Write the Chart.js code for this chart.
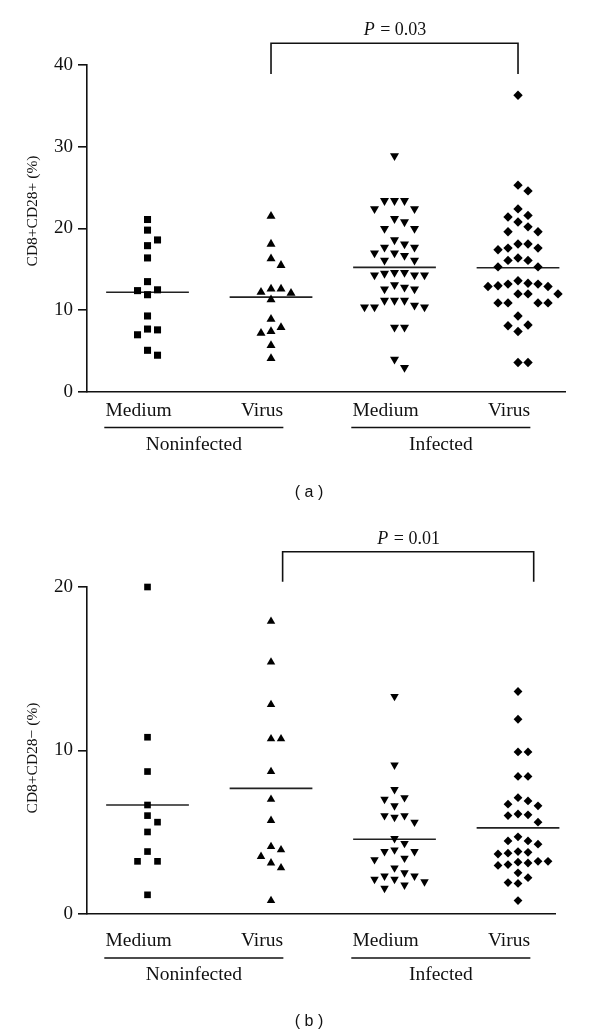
<!DOCTYPE html>
<html><head><meta charset="utf-8">
<script src="https://cdn.jsdelivr.net/npm/chart.js@4.4.1/dist/chart.umd.min.js"></script>
<style>
html,body{margin:0;padding:0;background:#fff;}
#wrap{position:relative;width:600px;height:1036px;overflow:hidden;}
canvas{position:absolute;left:0;}
</style></head><body>
<div id="wrap">
<canvas id="ca" width="600" height="500" style="top:0px"></canvas>
<canvas id="cb" width="600" height="536" style="top:500px"></canvas>
</div>
<script>
// ---------------- data ----------------
const categoryLabels = ['Medium', 'Virus', 'Medium', 'Virus'];
const groupLabels = ['Noninfected', 'Infected'];
const yTicksA = [0, 10, 20, 30, 40];
const yTicksB = [0, 10, 20];
const yTitleA = 'CD8+CD28+ (%)';
const yTitleB = 'CD8+CD28\u2212 (%)';
const panelLabelA = '( a )';
const panelLabelB = '( b )';
const pTextA = '0.03';
const pTextB = '0.01';

// Panel (a): CD8+CD28+ (%)
const aNonMedium = [21.1, 19.8, 18.6, 17.9, 16.4, 13.5, 12.4, 12.5, 11.9, 9.3, 7.6, 7.7, 7.0, 5.1, 4.5];
const aNonVirus = [21.5, 18.1, 16.3, 15.5, 12.6, 12.6, 12.2, 12.1, 11.3, 8.9, 7.9, 7.4, 7.2, 5.7, 4.1];
const aInfMedium = [28.9, 23.4, 23.4, 23.4, 22.4, 22.4, 21.2, 20.8, 20.0, 20.0, 18.6, 18.1, 17.7, 17.7, 17.0, 17.0, 16.7, 16.1, 16.1,
  14.6, 14.3, 14.3, 14.3, 14.5, 14.6, 13.1, 12.6, 12.6, 12.8, 11.2, 11.2, 11.2, 10.4, 10.4, 10.4, 10.6, 7.9, 7.9, 4.0, 3.0];
const aInfVirus = [36.3, 25.3, 24.6, 22.4, 21.6, 21.4, 20.8, 20.2, 19.6, 19.6, 18.1, 17.6, 17.4, 17.6, 18.1, 16.4, 16.1, 16.1, 15.3, 15.3,
  13.6, 12.9, 13.2, 13.2, 13.3, 12.9, 13.0, 12.0, 12.0, 12.0, 10.9, 10.9, 10.9, 10.9, 9.3, 8.1, 8.2, 7.4, 3.6, 3.6];
const aMeans = [12.2, 11.6, 15.25, 15.2];

// Panel (b): CD8+CD28- (%)
const bNonMedium = [20.0, 10.8, 8.7, 6.65, 6.0, 5.6, 5.0, 3.8, 3.2, 3.2, 1.15];
const bNonVirus = [17.9, 15.4, 12.8, 10.7, 10.7, 8.7, 7.0, 5.7, 4.1, 3.9, 3.5, 3.1, 2.8, 0.8];
const bInfMedium = [13.3, 9.1, 7.6, 7.1, 7.0, 6.6, 6.0, 5.9, 6.0, 5.6, 4.6, 4.3, 3.8, 3.8, 3.9, 3.3, 3.4, 2.8, 2.5, 2.3, 2.1, 2.3, 2.1, 1.95, 1.75, 1.55];
const bInfVirus = [13.6, 11.9, 9.9, 9.9, 8.4, 8.4, 7.1, 6.9, 6.6, 6.7, 6.1, 6.0, 6.05, 5.6, 4.45, 4.25, 4.45, 4.7,
  3.8, 3.7, 3.65, 3.75, 3.2, 3.1, 3.0, 2.95, 3.15, 3.2, 2.5, 1.9, 1.85, 2.2, 0.8];
const bMeans = [6.65, 7.67, 4.55, 5.25];

// ---------------- helpers ----------------
const SERIF = '"Liberation Serif", "Times New Roman", serif';
const SANS = '"Liberation Sans", Arial, sans-serif';

// simple beeswarm: spreads points that would overlap into side columns
function swarm(values, cx, stepX, pxPerY, minGap) {
  const idx = values.map((v, i) => i).sort((a, b) => values[b] - values[a]);
  const placed = [];
  const out = new Array(values.length);
  const order = [0, 1, -1, 2, -2, 3, -3, 4, -4, 5, -5];
  for (const i of idx) {
    const v = values[i];
    for (const k of order) {
      const clash = placed.some(p => p.k === k && Math.abs(p.v - v) * pxPerY < minGap);
      if (!clash) { placed.push({k, v}); out[i] = {x: cx + k * stepX, y: v}; break; }
    }
  }
  return out;
}

const decor = {
  id: 'decor',
  afterDraw(chart, args, o) {
    const ctx = chart.ctx;
    const xs = chart.scales.x, ys = chart.scales.y;
    const area = chart.chartArea;
    ctx.save();
    ctx.fillStyle = '#111';
    ctx.strokeStyle = '#111';
    // y-axis title
    ctx.save();
    ctx.translate(o.titleX, o.titleY);
    ctx.rotate(-Math.PI / 2);
    ctx.font = '15.5px ' + SERIF;
    ctx.textAlign = 'center';
    ctx.textBaseline = 'middle';
    ctx.fillText(o.title, 0, 0);
    ctx.restore();
    // category labels
    ctx.font = '19.5px ' + SERIF;
    ctx.textAlign = 'center';
    ctx.textBaseline = 'middle';
    categoryLabels.forEach((lab, i) => {
      ctx.fillText(lab, xs.getPixelForValue(i + 1) + o.labelShift, area.bottom + o.catDy);
    });
    // group underlines + labels
    ctx.lineWidth = 1.5;
    groupLabels.forEach((g, gi) => {
      const x1 = xs.getPixelForValue(gi * 2 + 1 - 0.35);
      const x2 = xs.getPixelForValue(gi * 2 + 2 + 0.1);
      const y = area.bottom + o.lineDy;
      ctx.beginPath(); ctx.moveTo(x1, y); ctx.lineTo(x2, y); ctx.stroke();
      ctx.fillText(g, (x1 + x2) / 2, area.bottom + o.groupDy);
    });
    // bracket
    const bx1 = xs.getPixelForValue(o.bracket[0]);
    const bx2 = xs.getPixelForValue(o.bracket[1]);
    const bTop = ys.getPixelForValue(o.bracket[2]);
    const bBot = ys.getPixelForValue(o.bracket[3]);
    ctx.lineWidth = 1.6;
    ctx.beginPath();
    ctx.moveTo(bx1, bBot); ctx.lineTo(bx1, bTop); ctx.lineTo(bx2, bTop); ctx.lineTo(bx2, bBot);
    ctx.stroke();
    // P text
    const mid = (bx1 + bx2) / 2;
    ctx.textBaseline = 'alphabetic';
    ctx.font = 'italic 18px ' + SERIF;
    const wP = ctx.measureText('P').width;
    ctx.font = '18px ' + SERIF;
    const rest = ' = ' + o.pText;
    const wR = ctx.measureText(rest).width;
    const startX = mid - (wP + wR) / 2;
    ctx.textAlign = 'left';
    ctx.font = 'italic 18px ' + SERIF;
    ctx.fillText('P', startX, bTop - 8);
    ctx.font = '18px ' + SERIF;
    ctx.fillText(rest, startX + wP + 1, bTop - 8);
    // panel label
    ctx.font = '16px ' + SANS;
    ctx.textAlign = 'center';
    ctx.textBaseline = 'middle';
    ctx.fillText(o.panel, o.panelX, area.bottom + o.panelDy);
    ctx.restore();
  }
};

function makeChart(id, cfg) {
  const stepX = 10 / 123.5;
  const shapes = [
    {style: 'rect', rot: 0, r: cfg.r + 0.3},
    {style: 'triangle', rot: 0, r: cfg.r + 0.5},
    {style: 'triangle', rot: 180, r: cfg.r + 0.5},
    {style: 'rectRot', rot: 0, r: cfg.r}
  ];
  const datasets = [];
  cfg.series.forEach((vals, i) => {
    datasets.push({
      type: 'scatter',
      data: swarm(vals, i + 1, stepX, cfg.pxPerY, 10),
      pointStyle: shapes[i].style,
      rotation: shapes[i].rot,
      pointRadius: shapes[i].r,
      backgroundColor: '#000',
      borderWidth: 0,
      clip: false
    });
  });
  cfg.means.forEach((m, i) => {
    datasets.push({
      type: 'line',
      data: [{x: i + 1 - 0.335, y: m}, {x: i + 1 + 0.335, y: m}],
      borderColor: '#222',
      borderWidth: 1.6,
      pointRadius: 0,
      fill: false,
      clip: false
    });
  });
  return new Chart(document.getElementById(id), {
    type: 'scatter',
    data: {datasets},
    plugins: [decor],
    options: {
      responsive: false,
      animation: false,
      events: [],
      layout: {padding: {top: cfg.padTop, right: cfg.padRight, left: 0, bottom: 0}},
      plugins: {
        legend: {display: false},
        tooltip: {enabled: false},
        decor: cfg.decor
      },
      scales: {
        x: {
          type: 'linear',
          min: 0.51, max: cfg.xMax,
          grid: {display: false, drawTicks: false},
          border: {display: true, color: '#111', width: 1.6},
          ticks: {display: false},
          afterFit: s => { s.height = cfg.xHeight; }
        },
        y: {
          type: 'linear',
          min: 0, max: cfg.yTicks[cfg.yTicks.length - 1],
          afterBuildTicks: s => { s.ticks = cfg.yTicks.map(v => ({value: v})); },
          grid: {display: true, drawOnChartArea: false, drawTicks: true, tickLength: 9, color: '#111', lineWidth: 1.6},
          border: {display: true, color: '#111', width: 1.6},
          ticks: {color: '#111', font: {family: SERIF, size: 19}, padding: 5},
          afterFit: s => { s.width = 87; }
        }
      }
    }
  });
}

makeChart('ca', {
  series: [aNonMedium, aNonVirus, aInfMedium, aInfVirus],
  means: aMeans,
  yTicks: yTicksA,
  pxPerY: 327 / 40,
  r: 4.7,
  padTop: 65, padRight: 35, xMax: 0.51 + 478 / 123.5, xHeight: 500 - 392,
  decor: {
    title: yTitleA, titleX: 33, titleY: 211,
    labelShift: -9, catDy: 19, lineDy: 35.5, groupDy: 53,
    bracket: [2, 4, 40 + 21.7 / 8.175, 40 - 9 / 8.175],
    pText: pTextA, panel: panelLabelA, panelX: 309, panelDy: 101
  }
});

makeChart('cb', {
  series: [bNonMedium, bNonVirus, bInfMedium, bInfVirus],
  means: bMeans,
  yTicks: yTicksB,
  pxPerY: 326.6 / 20,
  r: 4.4,
  padTop: 87, padRight: 45, xMax: 0.51 + 468 / 123.5, xHeight: 536 - 413.6,
  decor: {
    title: yTitleB, titleX: 33, titleY: 258,
    labelShift: -9, catDy: 27.5, lineDy: 44.5, groupDy: 61.5,
    bracket: [2.094, 4.127, 20 + 35.3 / 16.33, 20 + 5.3 / 16.33],
    pText: pTextB, panel: panelLabelB, panelX: 309, panelDy: 107.5
  }
});
</script>
</body></html>
